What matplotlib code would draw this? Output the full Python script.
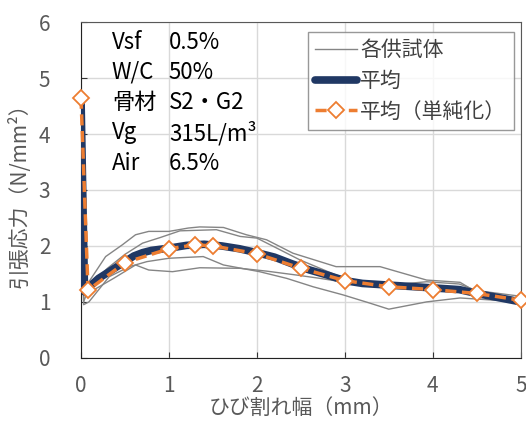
import matplotlib
matplotlib.use("Agg")
import matplotlib.pyplot as plt

plt.rcParams['font.family'] = ['Noto Sans CJK JP', 'DejaVu Sans']

# specimen curves (crack width mm, stress N/mm2)
s1_x = [0, 0.03, 0.09, 0.28, 0.47, 0.62, 0.77, 1.0, 1.22, 1.35, 1.62, 1.88, 2.11, 2.41, 2.9, 3.4, 3.93, 4.31, 4.46, 5.0]
s1_y = [4.6, 1.1, 1.36, 1.81, 2.02, 2.2, 2.26, 2.26, 2.32, 2.34, 2.33, 2.2, 2.11, 1.87, 1.63, 1.63, 1.39, 1.35, 1.21, 1.10]
s2_x = [0, 0.03, 0.1, 0.3, 0.5, 0.7, 0.9, 1.125, 1.54, 1.81, 2.0, 2.19, 2.49, 2.9, 3.28, 3.6, 4.0, 4.5, 5.0]
s2_y = [4.5, 1.0, 1.3, 1.6, 1.85, 2.05, 2.15, 2.27, 2.29, 2.17, 2.14, 1.99, 1.75, 1.48, 1.30, 1.27, 1.24, 1.13, 1.0]
s3_x = [0, 0.03, 0.09, 0.32, 0.55, 0.75, 1.0, 1.39, 1.62, 2.03, 2.34, 2.64, 2.98, 3.28, 3.5, 3.93, 4.31, 5.0]
s3_y = [4.4, 0.95, 1.0, 1.45, 1.63, 1.72, 1.78, 1.81, 1.66, 1.54, 1.42, 1.27, 1.125, 0.98, 0.87, 1.0, 1.07, 1.0]
s4_x = [0, 0.03, 0.14, 0.37, 0.62, 0.77, 1.04, 1.35, 1.81, 2.11, 2.45, 2.72, 3.0, 3.5, 3.93, 4.3, 4.5, 5.0]
s4_y = [4.65, 1.15, 1.21, 1.42, 1.66, 1.57, 1.54, 1.61, 1.60, 1.55, 1.48, 1.42, 1.35, 1.3, 1.36, 1.32, 1.2, 1.05]
specimens = [(s1_x, s1_y), (s2_x, s2_y), (s3_x, s3_y), (s4_x, s4_y)]

# average curve
avg_x = [0, 0.04, 0.1, 0.2, 0.3, 0.4, 0.5, 0.6, 0.7, 0.8, 1.0, 1.2, 1.4, 1.6, 1.8, 2.0, 2.2, 2.4, 2.6, 2.8, 3.0, 3.2, 3.5, 4.0, 4.3, 4.5, 5.0]
avg_y = [4.65, 1.18, 1.28, 1.42, 1.52, 1.62, 1.72, 1.82, 1.88, 1.92, 1.96, 2.01, 2.03, 2.0, 1.95, 1.88, 1.8, 1.68, 1.57, 1.48, 1.38, 1.33, 1.3, 1.25, 1.22, 1.15, 1.0]

# simplified average
simp_x = [0, 0.08, 0.5, 1.0, 1.3, 1.5, 2.0, 2.5, 3.0, 3.5, 4.0, 4.5, 5.0]
simp_y = [4.65, 1.21, 1.7, 1.95, 2.02, 2.0, 1.86, 1.6, 1.38, 1.27, 1.22, 1.15, 1.03]

labels = ['Vsf', 'W/C', '骨材', 'Vg', 'Air']
values = ['0.5%', '50%', 'S2・G2', '315L/m³', '6.5%']

fig = plt.figure(figsize=(5.26, 4.26), dpi=100)
ax = fig.add_axes([0.154, 0.160, 0.836, 0.788])

for i, (sx, sy) in enumerate(specimens):
    ax.plot(sx, sy, color='#858585', lw=1.0, label='各供試体' if i == 0 else None, zorder=2)
ax.plot(avg_x, avg_y, color='#203864', lw=5.5, solid_capstyle='round', label='平均', zorder=3)
ax.plot(simp_x, simp_y, color='#ED7D31', lw=2.5, ls=(0, (3.2, 1.6)), marker='D', ms=8,
        mfc='white', mec='#ED7D31', mew=1.3, label='平均（単純化）', zorder=4, clip_on=False)

ax.set_xlim(0, 5)
ax.set_ylim(0, 6)
ax.set_xticks(range(0, 6))
ax.set_yticks(range(0, 7))
ax.grid(color='#d9d9d9', lw=1)
ax.set_axisbelow(True)
ax.tick_params(direction='in', length=4, color='#333333', labelcolor='#595959', labelsize=15)
ax.tick_params(axis='y', pad=22)
ax.tick_params(axis='x', pad=12)
for side in ['left', 'bottom']:
    ax.spines[side].set_color('#222222')
for side in ['top', 'right']:
    ax.spines[side].set_color('#595959')

ax.set_xlabel('ひび割れ幅（mm）', fontsize=15, color='#595959', labelpad=0)
ax.set_ylabel('引張応力（N/mm²）', fontsize=15, color='#595959', labelpad=6)

for i in range(len(labels)):
    yy = 0.940 - i * 0.0899
    ax.text(0.07, yy, labels[i], transform=ax.transAxes, fontsize=16, va='center', ha='left', color='black')
    ax.text(0.2, yy, values[i], transform=ax.transAxes, fontsize=16, va='center', ha='left', color='black')

leg = ax.legend(loc='upper right', bbox_to_anchor=(0.984, 0.971), fontsize=15, frameon=True,
                fancybox=False, edgecolor='#7f7f7f', handlelength=2.0, handletextpad=0.15,
                borderpad=0.35, labelspacing=0.42, borderaxespad=0)
leg.get_frame().set_linewidth(1.0)
for t in leg.get_texts():
    t.set_color('#404040')

fig.savefig('out.png', dpi=100)
